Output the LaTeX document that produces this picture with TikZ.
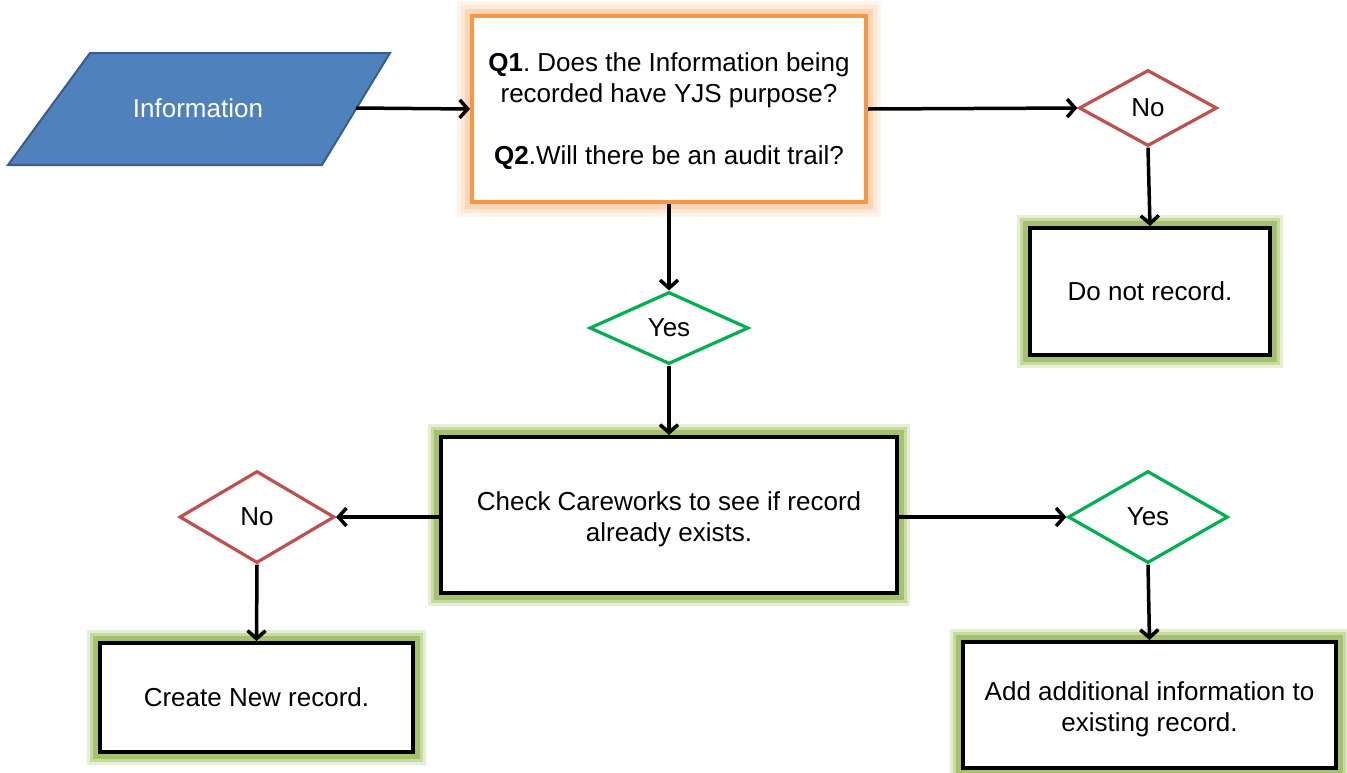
\documentclass[tikz,border=0pt]{standalone}
\usepackage{fontspec}
\setmainfont{Liberation Sans}
\usetikzlibrary{shapes.geometric,arrows.meta}
\frenchspacing
\definecolor{infoblue}{HTML}{4F81BD}
\definecolor{infoedge}{HTML}{385D8A}
\definecolor{noredc}{HTML}{C0504D}
\definecolor{yesgreen}{HTML}{00B050}
\definecolor{qorange}{HTML}{F79646}
\definecolor{glowgreen}{HTML}{9BBB59}
\newcommand{\lowerstrut}{\rule{0pt}{27pt}}
\tikzset{
  txt/.style={font=\fontsize{26}{31}\selectfont, align=center, text=black},
  resbox/.style={txt, rectangle, draw=black, line width=4, fill=white, inner sep=0,
    preaction={draw=glowgreen!25, line width=26},
    preaction={draw=glowgreen!55, line width=20},
    preaction={draw=glowgreen!90, line width=14}},
  qbox/.style={txt, rectangle, draw=qorange, line width=4, fill=white, inner sep=0,
    preaction={draw=qorange!10, line width=30},
    preaction={draw=qorange!22, line width=22},
    preaction={draw=qorange!40, line width=14}},
  nodiam/.style={txt, diamond, draw=noredc, line width=3.2, fill=white, inner sep=0},
  yesdiam/.style={txt, diamond, draw=yesgreen, line width=3.2, fill=white, inner sep=0},
  flow/.style={draw=black, line width=3.5, -{Straight Barb[length=8,width=18,line width=3.5]}}
}
\begin{document}
\begin{tikzpicture}[x=1pt,y=-1pt]
\useasboundingbox (0,0) rectangle (1347,772);
% input parallelogram
\draw[fill=infoblue, draw=infoedge, line width=2] (90,53) -- (390,53) -- (322,165) -- (8,165) -- cycle;
\node[txt, text=white] (info) at (198,108) {Information};
\coordinate (infoR) at (356,108);
% boxes
\node[qbox, minimum width=394, minimum height=186] (q) at (669,109)
  {\rule{0pt}{23pt}\textbf{Q1}. Does the Information being\\recorded have YJS purpose?\\[31pt]\textbf{Q2}.Will there be an audit trail?};
\node[nodiam, minimum width=138, minimum height=76] (no1) at (1148,108) {No};
\node[resbox, minimum width=240, minimum height=127] (dnr) at (1150,291.5) {Do not record.};
\node[yesdiam, minimum width=159, minimum height=72] (yes1) at (669,328) {Yes};
\node[resbox, minimum width=456, minimum height=156] (check) at (669,515)
  {\lowerstrut Check Careworks to see if record\\already exists.};
\node[nodiam, minimum width=155, minimum height=92] (no2) at (257,517) {No};
\node[resbox, minimum width=313, minimum height=109] (create) at (256.5,697.5) {Create New record.};
\node[yesdiam, minimum width=160, minimum height=92] (yes2) at (1148,517) {Yes};
\node[resbox, minimum width=373, minimum height=126] (add) at (1149.5,705)
  {\lowerstrut Add additional information to\\existing record.};
% connectors
\draw[flow] (infoR) -- (q.west);
\draw[flow] (q.east) -- (no1.west);
\draw[flow] (no1.south) -- (dnr.north);
\draw[flow] (q.south) -- (yes1.north);
\draw[flow] (yes1.south) -- (check.north);
\draw[flow] (check.west |- no2.east) -- (no2.east);
\draw[flow] (no2.south) -- (create.north);
\draw[flow] (check.east |- yes2.west) -- (yes2.west);
\draw[flow] (yes2.south) -- (add.north);
\end{tikzpicture}
\end{document}
